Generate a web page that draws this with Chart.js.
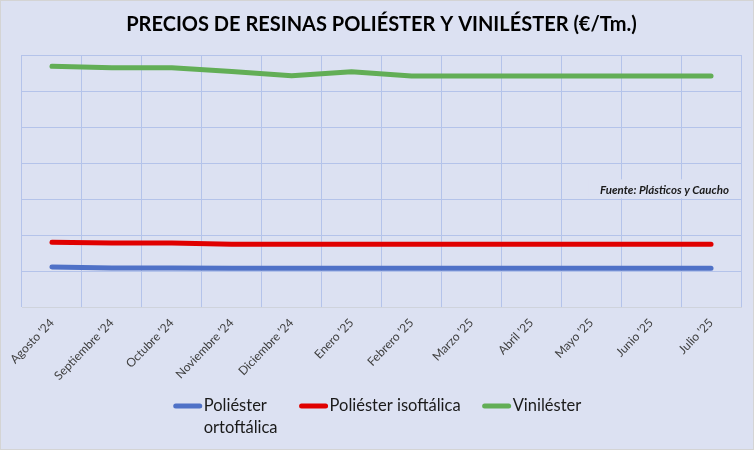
<!DOCTYPE html>
<html>
<head>
<meta charset="utf-8">
<script src="https://cdn.jsdelivr.net/npm/chart.js@4.4.1/dist/chart.umd.min.js"></script>
<style>
    body { margin: 0; background: #dce1f2; }
    #wrap { width: 754px; height: 450px; position: relative; box-sizing: border-box; border: 1px solid #d4d4d4; }
</style>
</head>
<body>
<div id="wrap"><canvas id="chart"></canvas></div>
<script>
// datos (€/Tm, aproximados)
var meses = ["Agosto '24", "Septiembre '24", "Octubre '24", "Noviembre '24", "Diciembre '24", "Enero '25",
    "Febrero '25", "Marzo '25", "Abril '25", "Mayo '25", "Junio '25", "Julio '25"];
var ortoftalica = [1130, 1100, 1100, 1095, 1095, 1095, 1095, 1095, 1095, 1095, 1095, 1095];
var isoftalica = [1815, 1795, 1795, 1760, 1760, 1760, 1760, 1760, 1760, 1760, 1760, 1760];
var vinilester = [6690, 6650, 6650, 6545, 6425, 6535, 6420, 6420, 6420, 6420, 6420, 6420];
var nombres = ["Poliéster ortoftálica", "Poliéster isoftálica", "Viniléster"];
var leyenda = [["Poliéster", "ortoftálica"], ["Poliéster isoftálica"], ["Viniléster"]];
var fuente = "Fuente: Plásticos y Caucho";

var FONT = "Lato, 'Open Sans', sans-serif";
var BG = "#dce1f2";

// fondo, nota de fuente y leyenda propia (la del Chart.js no parte lineas)
var extras = {
    id: 'extras',
    beforeDraw: function (chart) {
        var c = chart.ctx;
        c.save();
        c.fillStyle = BG;
        c.fillRect(0, 0, chart.width, chart.height);
        c.restore();
    },
    beforeDatasetsDraw: function (chart) {
        var c = chart.ctx, a = chart.chartArea;
        var y = chart.scales.y.getPixelForValue(3250);
        c.save();
        c.font = "italic bold 11.5px " + FONT;
        var w = c.measureText(fuente).width;
        c.fillStyle = BG;
        c.fillRect(a.right - w - 24, y - 11, w + 24, 19);
        c.fillStyle = "#1a1a1a";
        c.textAlign = "right";
        c.textBaseline = "middle";
        c.fillText(fuente, a.right - 12, y);
        c.restore();
    },
    afterDraw: function (chart) {
        var c = chart.ctx;
        var ds = chart.data.datasets;
        c.save();
        c.font = "16.5px " + FONT;
        var sw = 28, gap = 2, sep = 22, lh = 22;
        var items = ds.map(function (d, i) {
            var tw = Math.max.apply(null, leyenda[i].map(function (t) { return c.measureText(t).width; }));
            return { color: d.borderColor, lines: leyenda[i], w: sw + gap + tw };
        });
        var total = items.reduce(function (s, it) { return s + it.w; }, 0) + sep * (items.length - 1);
        var x = (chart.chartArea.left + chart.chartArea.right) / 2 - total / 2 - 4;
        var y0 = 405;
        items.forEach(function (it) {
            c.strokeStyle = it.color;
            c.lineWidth = 5;
            c.lineCap = "round";
            c.beginPath();
            c.moveTo(x + 2, y0);
            c.lineTo(x + sw - 2, y0);
            c.stroke();
            c.fillStyle = "#1a1a1a";
            c.textBaseline = "middle";
            it.lines.forEach(function (t, k) {
                c.fillText(t, x + sw + gap, y0 + k * lh);
            });
            x += it.w + sep;
        });
        c.restore();
    }
};

var data = {
    labels: meses,
    datasets: [{
        label: nombres[0],
        data: ortoftalica,
        borderColor: "#4f71c7",
        backgroundColor: "#4f71c7"
    }, {
        label: nombres[1],
        data: isoftalica,
        borderColor: "#e00000",
        backgroundColor: "#e00000"
    }, {
        label: nombres[2],
        data: vinilester,
        borderColor: "#62ae56",
        backgroundColor: "#62ae56"
    }]
};

var options = {
    responsive: true,
    maintainAspectRatio: false,
    animation: false,
    layout: { padding: { left: 21, right: 12, top: 0, bottom: 58 } },
    elements: {
        line: { borderWidth: 5, tension: 0, borderCapStyle: "round", borderJoinStyle: "round" },
        point: { radius: 0 }
    },
    plugins: {
        legend: { display: false },
        tooltip: { enabled: false },
        title: {
            display: true,
            text: "PRECIOS DE RESINAS POLIÉSTER Y VINILÉSTER (€/Tm.)",
            color: "#000",
            font: { family: FONT, size: 20, weight: "bold" },
            padding: { top: 12, bottom: 18 }
        }
    },
    scales: {
        x: {
            offset: true,
            grid: { display: true, color: "#b4c3ea", offset: true, drawTicks: false },
            border: { display: true, color: "#cfd3dc" },
            ticks: {
                color: "#404040",
                font: { family: FONT, size: 12 },
                minRotation: 46,
                maxRotation: 46,
                padding: 8
            }
        },
        y: {
            min: 0,
            max: 7000,
            grid: { color: "#b4c3ea", drawTicks: false },
            border: { display: false },
            ticks: { display: false, stepSize: 1000 }
        }
    }
};

new Chart('chart', {
    type: 'line',
    data: data,
    options: options,
    plugins: [extras]
});
</script>
</body>
</html>
